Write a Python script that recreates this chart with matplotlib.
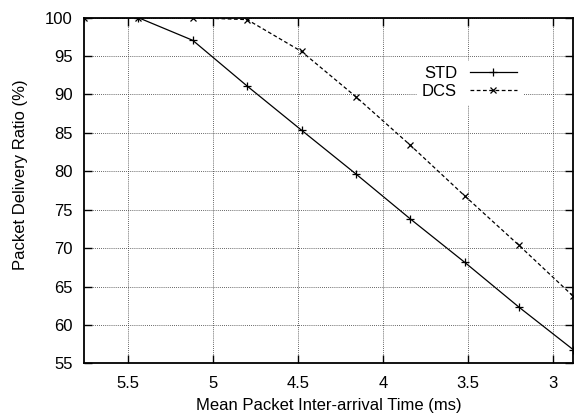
import numpy as np
import matplotlib
matplotlib.use("Agg")
import matplotlib.pyplot as plt

# mean inter-arrival time (ms) and delivery ratio (%) per scheme
interarrival = [5.76, 5.44, 5.12, 4.80, 4.48, 4.16, 3.84, 3.52, 3.20, 2.88]
std_pdr = [100.0, 100.0, 97.05, 91.1, 85.35, 79.65, 73.8, 68.15, 62.3, 56.75]
dcs_pdr = [100.0, 100.0, 100.0, 99.75, 95.6, 89.7, 83.4, 76.8, 70.35, 63.7]

xticks = [5.5, 5, 4.5, 4, 3.5, 3]
yticks = [55, 60, 65, 70, 75, 80, 85, 90, 95, 100]

plt.rcParams['font.family'] = ['Liberation Sans', 'DejaVu Sans']
plt.rcParams['font.size'] = 12

fig = plt.figure(figsize=(5.74, 4.19), dpi=100)
ax = fig.add_axes([0.1463, 0.1329, 0.8528, 0.8249])

ax.plot(interarrival, std_pdr, color='black', lw=0.9, marker='+',
        markersize=6, markeredgewidth=0.9, label='STD')
ax.plot(interarrival, dcs_pdr, color='black', lw=0.9, ls=(0, (3, 2)),
        marker='x', markersize=5, markeredgewidth=0.9, label='DCS')

ax.set_xlim(5.76, 2.88)
ax.set_ylim(55, 100)
ax.set_xticks(xticks)
ax.set_xticklabels([('%g' % t) for t in xticks])
ax.set_yticks(yticks)

ax.grid(True, color='#333333', ls=(0, (1, 1.5)), lw=0.6)
ax.tick_params(direction='in', length=6, width=1, top=True, right=True)
ax.tick_params(axis='y', pad=8)
ax.tick_params(axis='x', pad=9)
for s in ax.spines.values():
    s.set_linewidth(1.3)

ax.set_xlabel('Mean Packet Inter-arrival Time (ms)', labelpad=5)
ax.set_ylabel('Packet Delivery Ratio (%)')
ax.yaxis.set_label_coords(-0.114, 0.545)

leg = ax.legend(loc='upper right', bbox_to_anchor=(0.895, 0.876),
                markerfirst=False, frameon=True, fancybox=False,
                handlelength=2.85, handletextpad=0.75, labelspacing=0.22,
                borderpad=0.3, borderaxespad=0)
leg.get_frame().set_edgecolor('white')
leg.get_frame().set_facecolor('white')
leg.get_frame().set_alpha(1)
for t in leg.get_texts():
    t.set_ha('right')

fig.savefig('out.png', dpi=100)
